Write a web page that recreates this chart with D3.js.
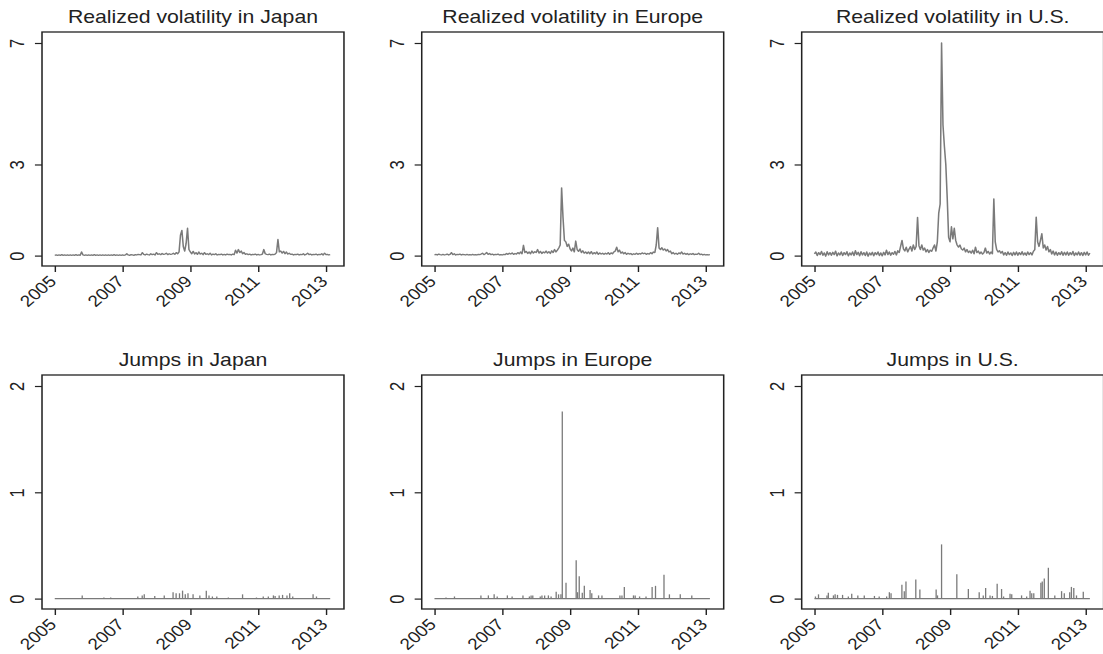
<!DOCTYPE html>
<html>
<head>
<meta charset="utf-8">
<script src="https://cdn.jsdelivr.net/npm/d3@7"></script>
<style>
  body { margin: 0; background: #fff; }
  svg { display: block; }
  text { font-family: "Liberation Sans", Arial, Helvetica, sans-serif; fill: #222; }
</style>
</head>
<body>
<script>
// realized volatility, one value every half month starting Jan 2005
const rvStart = 2005, rvStep = 1 / 24;

const rvJapan = [
  0.01,0.02,0.01,0.02,0.01,0.03,0.01,0.02,0.01,0.02,0.01,0.02,
  0.01,0.02,0.01,0.03,0.01,0.02,0.01,0.12,0.02,0.01,0.02,0.01,
  0.02,0.01,0.02,0.01,0.03,0.01,0.02,0.01,0.02,0.01,0.02,0.01,
  0.02,0.01,0.02,0.01,0.02,0.01,0.03,0.01,0.02,0.01,0.02,0.01,
  0.02,0.01,0.02,0.06,0.02,0.01,0.03,0.02,0.01,0.03,0.02,0.04,
  0.03,0.02,0.10,0.04,0.02,0.05,0.03,0.02,0.06,0.03,0.05,0.02,
  0.10,0.04,0.06,0.03,0.07,0.04,0.05,0.08,0.03,0.06,0.04,0.05,
  0.08,0.04,0.10,0.06,0.12,0.67,0.83,0.30,0.15,0.40,0.90,0.20,
  0.12,0.06,0.14,0.05,0.10,0.04,0.12,0.05,0.08,0.03,0.10,0.04,
  0.06,0.03,0.08,0.02,0.05,0.03,0.06,0.02,0.04,0.03,0.05,0.02,
  0.04,0.02,0.05,0.03,0.04,0.02,0.05,0.03,0.18,0.08,0.20,0.10,
  0.15,0.06,0.10,0.04,0.06,0.03,0.05,0.02,0.04,0.03,0.05,0.02,
  0.04,0.02,0.03,0.05,0.20,0.06,0.04,0.03,0.05,0.02,0.04,0.03,
  0.05,0.10,0.53,0.12,0.15,0.08,0.14,0.06,0.12,0.05,0.08,0.04,
  0.05,0.02,0.04,0.03,0.05,0.02,0.04,0.03,0.06,0.02,0.04,0.08,
  0.03,0.05,0.02,0.04,0.03,0.05,0.02,0.04,0.03,0.06,0.02,0.08,
  0.03,0.04,0.02,0.03
];

const rvEurope = [
  0.02,0.04,0.02,0.05,0.03,0.02,0.04,0.02,0.03,0.05,0.02,0.04,
  0.10,0.03,0.06,0.02,0.04,0.03,0.05,0.02,0.04,0.03,0.02,0.04,
  0.02,0.03,0.02,0.04,0.02,0.03,0.02,0.04,0.03,0.05,0.08,0.03,
  0.06,0.10,0.04,0.07,0.03,0.05,0.02,0.04,0.03,0.05,0.02,0.03,
  0.02,0.04,0.03,0.07,0.04,0.08,0.05,0.09,0.04,0.07,0.05,0.10,
  0.06,0.12,0.06,0.34,0.10,0.14,0.07,0.12,0.06,0.15,0.08,0.13,
  0.10,0.20,0.08,0.14,0.07,0.12,0.09,0.15,0.08,0.13,0.07,0.16,
  0.10,0.20,0.12,0.18,0.25,0.35,2.23,1.25,0.50,0.45,0.30,0.38,
  0.22,0.15,0.25,0.12,0.48,0.20,0.14,0.22,0.10,0.16,0.08,0.12,
  0.07,0.12,0.06,0.13,0.05,0.10,0.06,0.12,0.04,0.09,0.05,0.08,
  0.04,0.08,0.05,0.10,0.04,0.09,0.06,0.12,0.15,0.28,0.12,0.18,
  0.08,0.12,0.06,0.10,0.04,0.08,0.05,0.07,0.03,0.06,0.04,0.08,
  0.04,0.07,0.05,0.09,0.06,0.08,0.04,0.07,0.05,0.10,0.06,0.12,
  0.10,0.35,0.92,0.25,0.20,0.26,0.18,0.22,0.15,0.20,0.12,0.15,
  0.06,0.10,0.05,0.08,0.04,0.09,0.06,0.12,0.05,0.08,0.04,0.07,
  0.03,0.06,0.04,0.07,0.03,0.05,0.04,0.08,0.03,0.05,0.02,0.04,
  0.02,0.03,0.02,0.03
];

const rvUS = [
  0.06,0.12,0.00,0.10,0.03,0.14,0.01,0.09,-0.02,0.13,0.02,0.10,
  0.01,0.11,0.03,0.15,-0.01,0.09,0.02,0.12,0.00,0.10,0.03,0.13,
  -0.01,0.09,0.02,0.12,0.00,0.16,0.03,0.11,-0.01,0.13,0.02,0.10,
  0.00,0.12,-0.02,0.09,0.02,0.11,-0.01,0.10,0.03,0.12,0.00,0.09,
  -0.01,0.11,0.02,0.18,0.03,0.12,0.01,0.10,0.04,0.14,0.02,0.16,
  0.10,0.30,0.50,0.22,0.15,0.28,0.12,0.22,0.30,0.15,0.35,0.20,
  0.30,1.26,0.32,0.20,0.35,0.18,0.25,0.12,0.20,0.10,0.18,0.14,
  0.25,0.35,0.15,0.45,1.40,1.70,7.00,4.30,3.60,3.00,1.90,0.60,
  0.45,0.95,0.55,0.90,0.50,0.35,0.28,0.35,0.22,0.18,0.25,0.12,
  0.20,0.10,0.15,0.08,0.18,0.06,0.28,0.10,0.15,0.06,0.12,0.05,
  0.10,0.25,0.08,0.14,0.05,0.12,0.06,1.87,0.45,0.20,0.12,0.16,
  0.08,0.14,0.02,0.10,0.01,0.12,0.03,0.09,0.00,0.11,0.02,0.12,
  0.01,0.10,0.03,0.13,0.02,0.09,0.01,0.12,0.03,0.10,0.02,0.14,
  0.20,1.27,0.45,0.30,0.50,0.72,0.25,0.35,0.18,0.30,0.12,0.20,
  0.05,0.15,0.02,0.12,0.01,0.10,0.03,0.13,0.01,0.11,0.02,0.12,
  0.01,0.10,0.03,0.14,0.00,0.09,0.02,0.12,0.01,0.10,0.00,0.11,
  0.02,0.12,0.01,0.08
];

// jumps: [date, size]
const jumpsJapan = [
  [2005.81,0.03],[2006.45,0.01],[2006.65,0.01],[2007.45,0.02],[2007.58,0.03],[2007.64,0.04],
  [2007.95,0.025],[2008.23,0.03],[2008.49,0.06],[2008.58,0.05],[2008.68,0.05],[2008.77,0.075],
  [2008.85,0.04],[2008.93,0.05],[2009.08,0.04],[2009.28,0.03],[2009.47,0.075],[2009.55,0.03],
  [2009.65,0.02],[2009.78,0.02],[2010.12,0.01],[2010.54,0.04],[2010.95,0.01],[2011.15,0.02],
  [2011.3,0.02],[2011.45,0.03],[2011.5,0.025],[2011.62,0.03],[2011.72,0.035],[2011.85,0.03],
  [2011.93,0.05],[2012.02,0.02],[2012.62,0.04],[2012.72,0.02]
];

const jumpsEurope = [
  [2005.34,0.01],[2005.59,0.02],[2006.37,0.03],[2006.59,0.03],[2006.76,0.04],[2006.85,0.02],
  [2007.15,0.03],[2007.29,0.02],[2007.61,0.03],[2007.8,0.02],[2007.85,0.03],[2007.9,0.03],
  [2008.12,0.02],[2008.17,0.03],[2008.25,0.03],[2008.36,0.03],[2008.44,0.02],[2008.59,0.065],
  [2008.66,0.04],[2008.73,0.04],[2008.77,1.76],[2008.88,0.15],[2009.18,0.36],[2009.22,0.06],
  [2009.27,0.21],[2009.36,0.055],[2009.42,0.12],[2009.59,0.08],[2009.64,0.05],[2009.84,0.03],
  [2009.94,0.03],[2010.47,0.03],[2010.53,0.03],[2010.6,0.11],[2010.87,0.03],[2010.92,0.03],
  [2011.05,0.02],[2011.24,0.02],[2011.42,0.11],[2011.52,0.12],[2011.77,0.225],[2011.93,0.04],
  [2012.25,0.04],[2012.59,0.03]
];

const jumpsUS = [
  [2005.03,0.02],[2005.12,0.04],[2005.37,0.03],[2005.41,0.055],[2005.56,0.03],[2005.61,0.04],
  [2005.68,0.035],[2005.83,0.035],[2006.0,0.02],[2006.1,0.045],[2006.28,0.03],[2006.47,0.03],
  [2006.77,0.025],[2006.91,0.02],[2007.13,0.02],[2007.21,0.06],[2007.26,0.05],[2007.58,0.13],
  [2007.65,0.07],[2007.7,0.16],[2007.99,0.18],[2008.11,0.085],[2008.59,0.085],[2008.63,0.03],
  [2008.75,0.51],[2009.2,0.23],[2009.54,0.09],[2009.86,0.06],[2009.98,0.03],[2010.05,0.10],
  [2010.18,0.03],[2010.25,0.025],[2010.39,0.14],[2010.52,0.09],[2010.58,0.02],[2010.77,0.045],
  [2010.82,0.04],[2011.11,0.03],[2011.26,0.02],[2011.36,0.075],[2011.41,0.05],[2011.47,0.05],
  [2011.68,0.15],[2011.72,0.16],[2011.78,0.19],[2011.9,0.29],[2012.09,0.03],[2012.29,0.07],
  [2012.37,0.05],[2012.53,0.06],[2012.58,0.11],[2012.65,0.10],[2012.73,0.03],[2012.93,0.065]
];
const jumpsSpan = [2005, 2013.125];

const yearTicks = [2005, 2007, 2009, 2011, 2013];
const rvTicks = [0, 3, 7];
const jumpTicks = [0, 1, 2];

const panels = [
  { title: "Realized volatility in Japan",  row: 0, col: 0, rv: rvJapan },
  { title: "Realized volatility in Europe", row: 0, col: 1, rv: rvEurope },
  { title: "Realized volatility in U.S.",   row: 0, col: 2, rv: rvUS },
  { title: "Jumps in Japan",  row: 1, col: 0, jumps: jumpsJapan },
  { title: "Jumps in Europe", row: 1, col: 1, jumps: jumpsEurope },
  { title: "Jumps in U.S.",   row: 1, col: 2, jumps: jumpsUS }
];

// the picture is stretched sideways, so draw narrow and let the viewBox widen it
const stretch = 1.18;
const width = 1103, height = 654;
const vw = width / stretch;

const colLeft = [35.6, 357.4, 679.4];
const frameW = 255.9;
const rowTop = [32, 375], frameH = 234;
const padX = 10.8, padTop = 11, padBottom = 10.4;

const lineColor = "#7a7a7a";
const inkColor = "#222";

const svg = d3.select("body").append("svg")
    .attr("width", width)
    .attr("height", height)
    .attr("viewBox", `0 0 ${vw} ${height}`)
    .attr("preserveAspectRatio", "none");

panels.forEach(p => {
    const left = colLeft[p.col], top = rowTop[p.row];
    const g = svg.append("g").attr("transform", `translate(${left},${top})`);

    const x = d3.scaleLinear()
        .domain([2005, 2013])
        .range([padX, padX + 8 * 28.73]);
    const y = d3.scaleLinear()
        .domain(p.rv ? [0, 7] : [0, 2])
        .range([frameH - padBottom, padTop]);

    // series
    if (p.rv) {
        const pts = p.rv.map((v, i) => [rvStart + i * rvStep, v]);
        g.append("path")
            .datum(pts)
            .attr("fill", "none")
            .attr("stroke", lineColor)
            .attr("stroke-width", 1.3)
            .attr("stroke-linejoin", "round")
            .attr("d", d3.line().x(d => x(d[0])).y(d => y(d[1])));
    } else {
        g.append("line")
            .attr("x1", x(jumpsSpan[0])).attr("x2", x(jumpsSpan[1]))
            .attr("y1", y(0)).attr("y2", y(0))
            .attr("stroke", lineColor).attr("stroke-width", 1.1);
        g.selectAll(".spike")
            .data(p.jumps)
            .enter().append("line")
            .attr("class", "spike")
            .attr("x1", d => x(d[0])).attr("x2", d => x(d[0]))
            .attr("y1", y(0)).attr("y2", d => y(d[1]))
            .attr("stroke", lineColor).attr("stroke-width", 1.1);
    }

    // frame
    g.append("rect")
        .attr("width", frameW).attr("height", frameH)
        .attr("fill", "none")
        .attr("stroke", inkColor)
        .attr("stroke-width", 1.3);

    // y axis
    const yAxis = g.append("g")
        .call(d3.axisLeft(y).tickValues(p.rv ? rvTicks : jumpTicks).tickSize(6).tickFormat(d3.format("d")));
    yAxis.select(".domain").remove();
    yAxis.selectAll("line").attr("stroke", inkColor).attr("stroke-width", 1.2);
    yAxis.selectAll("text")
        .attr("x", null).attr("dy", null)
        .attr("text-anchor", "middle")
        .attr("transform", "translate(-15.2,0) rotate(-90)")
        .style("font-size", "16.5px")
        .attr("fill", inkColor);

    // x axis
    const xAxis = g.append("g")
        .attr("transform", `translate(0,${frameH})`)
        .call(d3.axisBottom(x).tickValues(yearTicks).tickSize(6).tickFormat(d3.format("d")));
    xAxis.select(".domain").remove();
    xAxis.selectAll("line").attr("stroke", inkColor).attr("stroke-width", 1.2);
    xAxis.selectAll("text")
        .attr("y", null).attr("dy", null)
        .attr("text-anchor", "end")
        .attr("transform", "translate(1.8,16.5) rotate(-45)")
        .style("font-size", "16px")
        .attr("fill", inkColor);

    // title
    g.append("text")
        .attr("x", frameW / 2)
        .attr("y", p.row === 0 ? -9.3 : -8.8)
        .attr("text-anchor", "middle")
        .style("font-size", "18px")
        .text(p.title);
});
</script>
</body>
</html>
